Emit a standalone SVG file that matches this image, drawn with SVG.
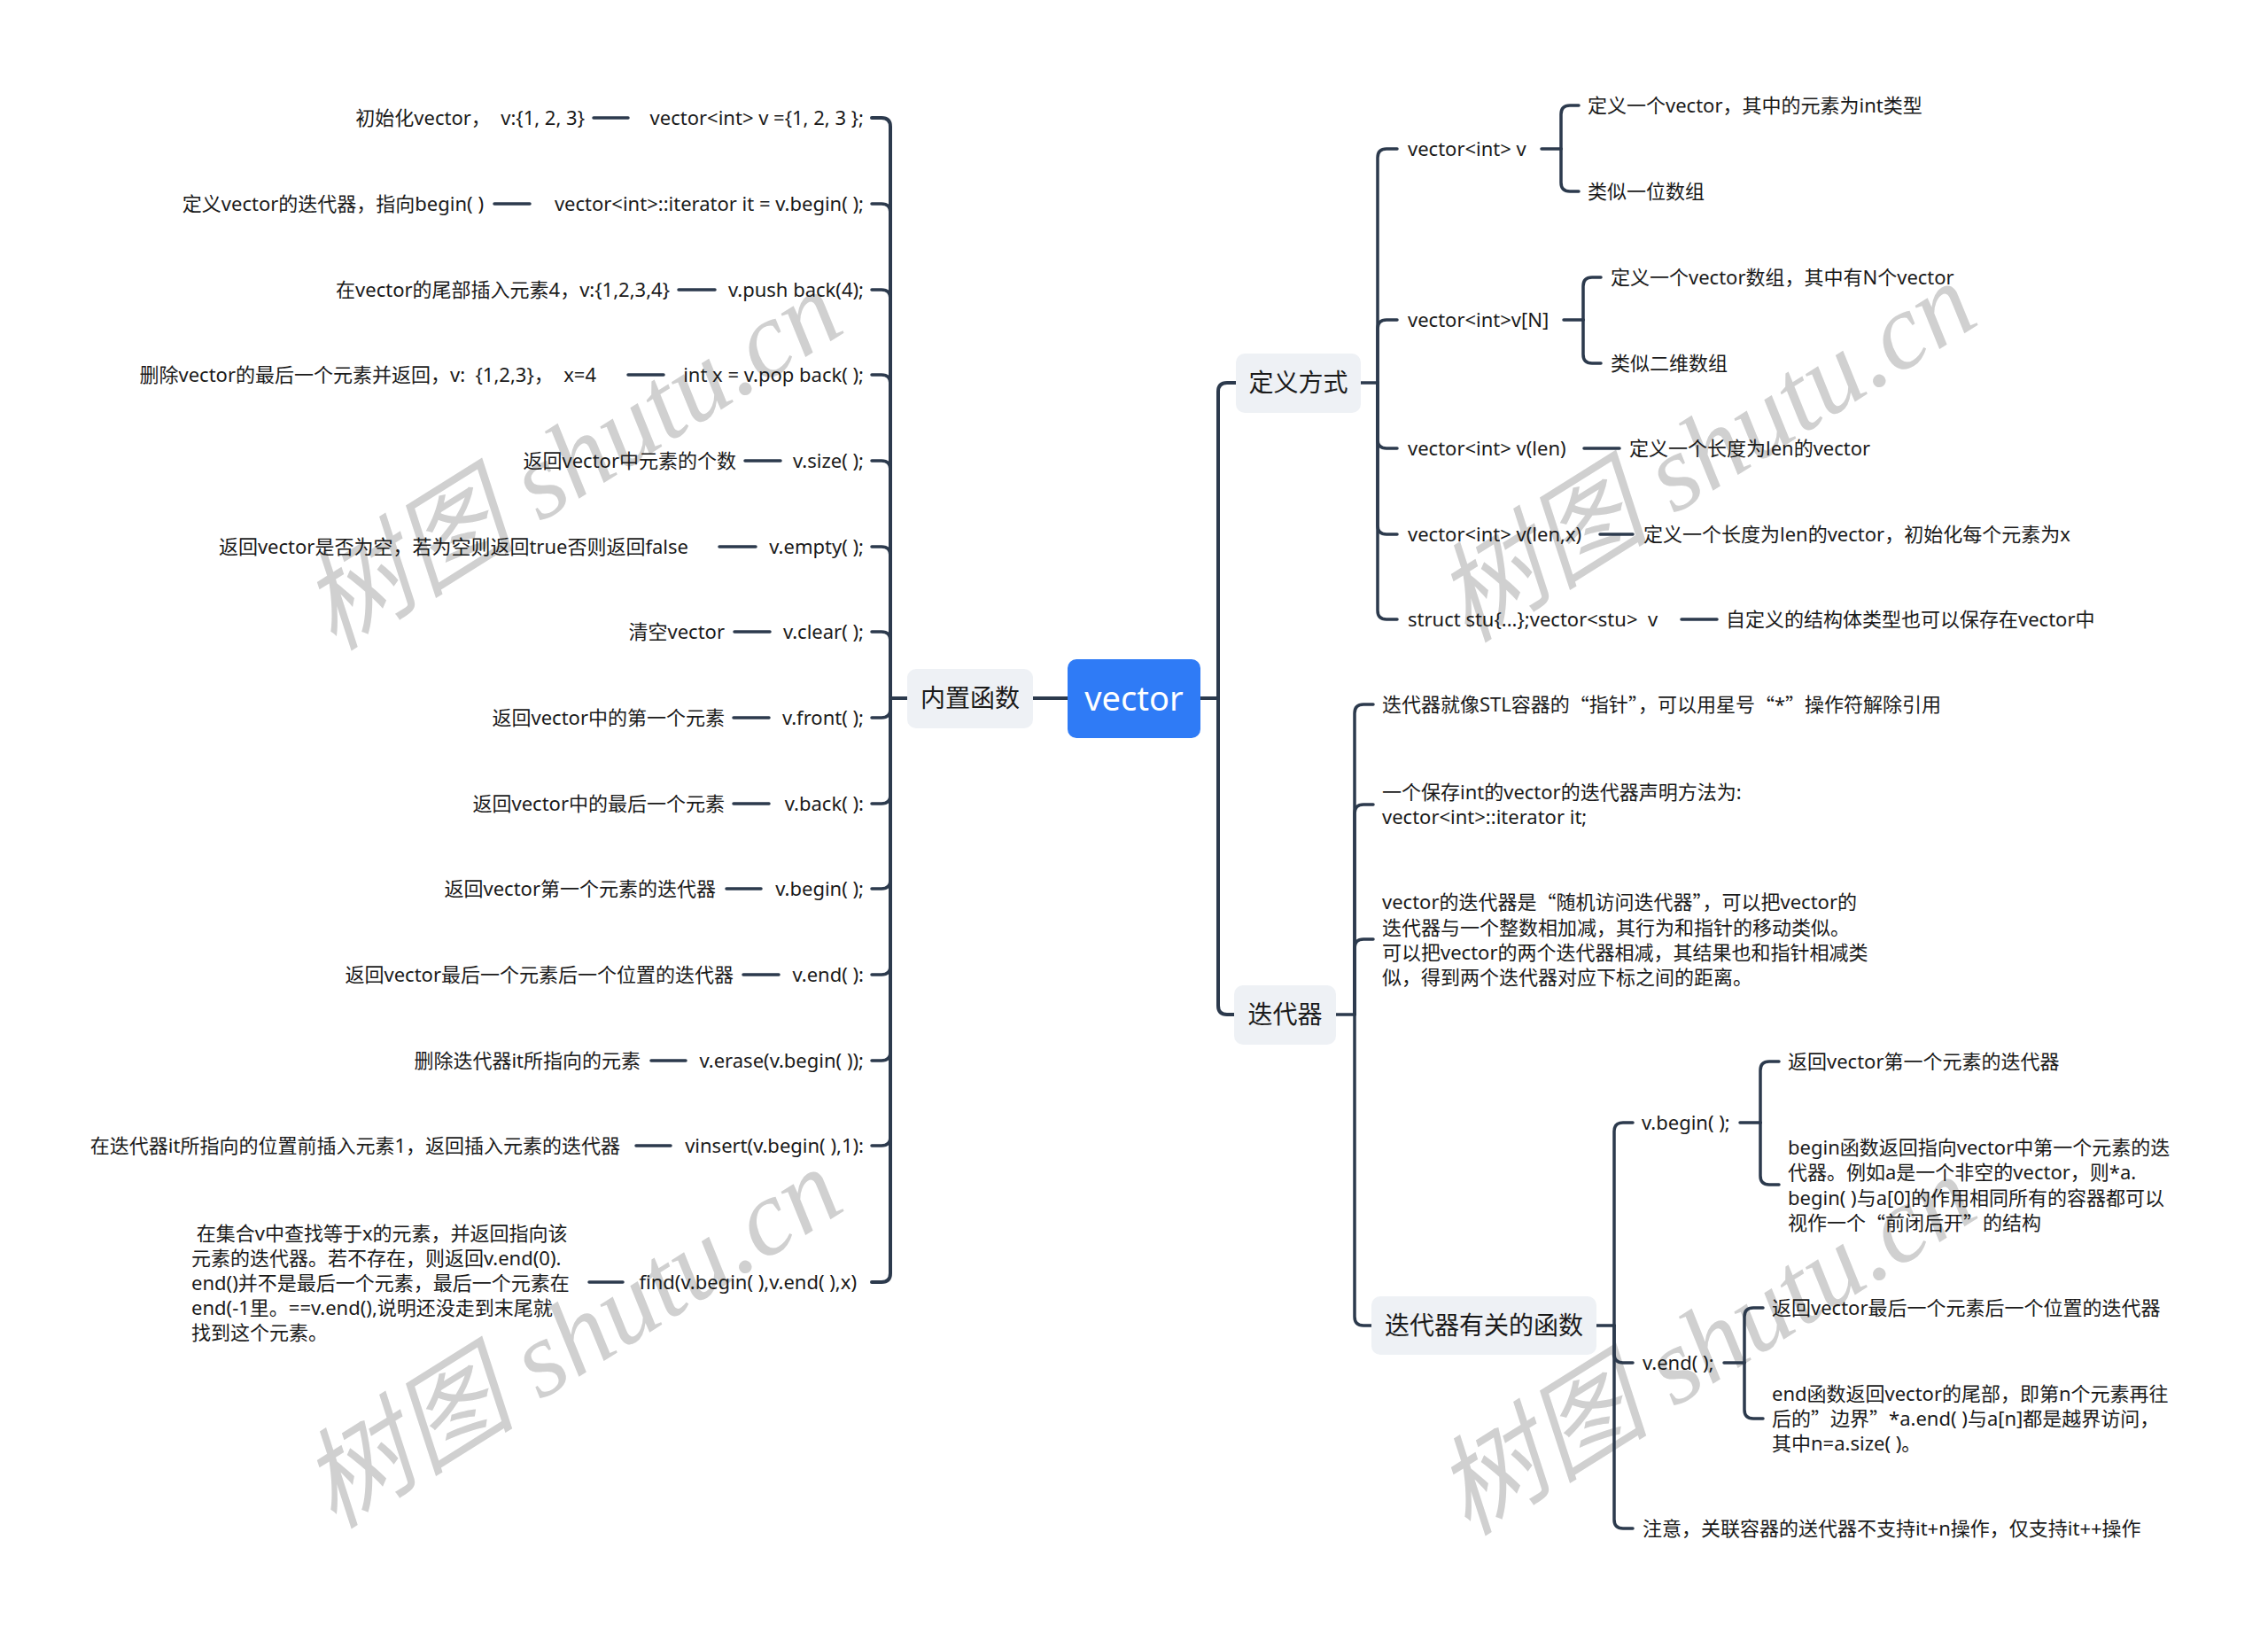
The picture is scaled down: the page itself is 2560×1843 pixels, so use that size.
<svg xmlns="http://www.w3.org/2000/svg" width="2560" height="1843" viewBox="0 0 2560 1843">
<style>
.t{font-family:'Noto Sans','Noto Sans CJK SC',sans-serif;font-size:22px;fill:#1a1a1a;white-space:pre;dominant-baseline:central}
.e{text-anchor:end}
.q{font-family:'Noto Sans CJK SC',sans-serif}
.tp{font-family:'Noto Sans','Noto Sans CJK SC',sans-serif;font-size:28px;fill:#1a1a1a;text-anchor:middle;dominant-baseline:central}
.rt{font-family:'Noto Sans','Noto Sans CJK SC',sans-serif;font-size:38px;fill:#ffffff;text-anchor:middle;dominant-baseline:central}
.box{fill:#eef1f5}
.ln{fill:none;stroke:#2c3a4d;stroke-width:3.5;stroke-linecap:round}
.ln4{fill:none;stroke:#2c3a4d;stroke-width:4;stroke-linecap:round}
.wm{font-family:'Liberation Serif','Noto Sans CJK SC',serif;font-style:italic;font-size:122px;fill:#d0d0d0;text-anchor:middle;dominant-baseline:central}
</style>
<rect width="2560" height="1843" fill="#ffffff"/>
<g id="watermarks">
<text class="wm" transform="translate(645,519) rotate(-32)">树图 shutu.cn</text>
<text class="wm" transform="translate(645,1510) rotate(-32)">树图 shutu.cn</text>
<text class="wm" transform="translate(1925,510) rotate(-32)">树图 shutu.cn</text>
<text class="wm" transform="translate(1925,1518) rotate(-32)">树图 shutu.cn</text>
</g>
<g id="connectors">
<path class="ln4" d="M1166,788 H1205 M1355,788 H1375 M1024,788 H1005"/>
<path class="ln4" d="M1005,788 V143 Q1005,133 995,133 H984"/>
<path class="ln" d="M1005,788 V240 Q1005,230 995,230 H984"/>
<path class="ln" d="M1005,788 V337 Q1005,327 995,327 H984"/>
<path class="ln" d="M1005,788 V433 Q1005,423 995,423 H984"/>
<path class="ln" d="M1005,788 V530 Q1005,520 995,520 H984"/>
<path class="ln" d="M1005,788 V627 Q1005,617 995,617 H984"/>
<path class="ln" d="M1005,788 V723 Q1005,713 995,713 H984"/>
<path class="ln" d="M1005,788 V800 Q1005,810 995,810 H984"/>
<path class="ln" d="M1005,788 V897 Q1005,907 995,907 H984"/>
<path class="ln" d="M1005,788 V993 Q1005,1003 995,1003 H984"/>
<path class="ln" d="M1005,788 V1090 Q1005,1100 995,1100 H984"/>
<path class="ln" d="M1005,788 V1187 Q1005,1197 995,1197 H984"/>
<path class="ln" d="M1005,788 V1283 Q1005,1293 995,1293 H984"/>
<path class="ln4" d="M1005,788 V1437 Q1005,1447 995,1447 H984"/>
<path class="ln" d="M670,133 H709 M558,230 H598 M766,327 H807 M709,423 H749 M841,520 H881 M812,617 H853 M829,713 H869 M828,810 H868 M828,907 H868 M820,1003 H859 M839,1100 H879 M735,1197 H774 M718,1293 H757 M665,1447 H703"/>
<path class="ln4" d="M1375,788 V442 Q1375,432 1385,432 H1395"/>
<path class="ln4" d="M1375,788 V1135 Q1375,1145 1385,1145 H1393"/>
<path class="ln" d="M1536,432 H1555"/>
<path class="ln" d="M1555,432 V178 Q1555,168 1565,168 H1577"/>
<path class="ln" d="M1555,432 V371 Q1555,361 1565,361 H1577"/>
<path class="ln" d="M1555,432 V496 Q1555,506 1565,506 H1577"/>
<path class="ln" d="M1555,432 V593 Q1555,603 1565,603 H1577"/>
<path class="ln" d="M1555,432 V689 Q1555,699 1565,699 H1577"/>
<path class="ln" d="M1740,168 H1762"/>
<path class="ln" d="M1762,168 V129 Q1762,119 1772,119 H1782"/>
<path class="ln" d="M1762,168 V206 Q1762,216 1772,216 H1782"/>
<path class="ln" d="M1765,361 H1787"/>
<path class="ln" d="M1787,361 V323 Q1787,313 1797,313 H1807"/>
<path class="ln" d="M1787,361 V400 Q1787,410 1797,410 H1807"/>
<path class="ln" d="M1788,506 H1828 M1806,603 H1843 M1898,699 H1938"/>
<path class="ln" d="M1508,1145 H1529"/>
<path class="ln" d="M1529,1145 V805 Q1529,795 1539,795 H1550"/>
<path class="ln" d="M1529,1145 V918 Q1529,908 1539,908 H1550"/>
<path class="ln" d="M1529,1145 V1070 Q1529,1060 1539,1060 H1550"/>
<path class="ln" d="M1529,1145 V1486 Q1529,1496 1539,1496 H1548"/>
<path class="ln" d="M1802,1496 H1822"/>
<path class="ln" d="M1822,1496 V1277 Q1822,1267 1832,1267 H1843"/>
<path class="ln" d="M1822,1496 V1528 Q1822,1538 1832,1538 H1843"/>
<path class="ln" d="M1822,1496 V1715 Q1822,1725 1832,1725 H1843"/>
<path class="ln" d="M1964,1267 H1987"/>
<path class="ln" d="M1987,1267 V1208 Q1987,1198 1997,1198 H2008"/>
<path class="ln" d="M1987,1267 V1327 Q1987,1337 1997,1337 H2008"/>
<path class="ln" d="M1946,1538 H1969"/>
<path class="ln" d="M1969,1538 V1486 Q1969,1476 1979,1476 H1990"/>
<path class="ln" d="M1969,1538 V1591 Q1969,1601 1979,1601 H1990"/>
</g>
<g id="root">
<rect x="1205" y="744" width="150" height="89" rx="10" fill="#2f7bf6"/>
<text class="rt" x="1280" y="787">vector</text>
</g>
<g id="builtin">
<rect class="box" x="1024" y="755" width="142" height="67" rx="10"/>
<text class="tp" x="1095" y="787">内置函数</text>
</g>
<g id="left-items">
<g id="l1"><text class="t e" x="660" y="132">初始化vector，  v:{1, 2, 3}</text><text class="t e" x="975" y="132">vector&lt;int&gt; v ={1, 2, 3 };</text></g>
<g id="l2"><text class="t e" x="546" y="229">定义vector的迭代器，指向begin( )</text><text class="t e" x="975" y="229">vector&lt;int&gt;::iterator it = v.begin( );</text></g>
<g id="l3"><text class="t e" x="756" y="326">在vector的尾部插入元素4，v:{1,2,3,4}</text><text class="t e" x="975" y="326">v.push back(4);</text></g>
<g id="l4"><text class="t e" x="673" y="422">删除vector的最后一个元素并返回，v:  {1,2,3}，  x=4</text><text class="t e" x="975" y="422">int x = v.pop back( );</text></g>
<g id="l5"><text class="t e" x="831" y="519">返回vector中元素的个数</text><text class="t e" x="975" y="519">v.size( );</text></g>
<g id="l6"><text class="t e" x="777" y="616">返回vector是否为空，若为空则返回true否则返回false</text><text class="t e" x="975" y="616">v.empty( );</text></g>
<g id="l7"><text class="t e" x="818" y="712">清空vector</text><text class="t e" x="975" y="712">v.clear( );</text></g>
<g id="l8"><text class="t e" x="818" y="809">返回vector中的第一个元素</text><text class="t e" x="975" y="809">v.front( );</text></g>
<g id="l9"><text class="t e" x="818" y="906">返回vector中的最后一个元素</text><text class="t e" x="975" y="906">v.back( ):</text></g>
<g id="l10"><text class="t e" x="808" y="1002">返回vector第一个元素的迭代器</text><text class="t e" x="975" y="1002">v.begin( );</text></g>
<g id="l11"><text class="t e" x="828" y="1099">返回vector最后一个元素后一个位置的迭代器</text><text class="t e" x="975" y="1099">v.end( ):</text></g>
<g id="l12"><text class="t e" x="723" y="1196">删除迭代器it所指向的元素</text><text class="t e" x="975" y="1196">v.erase(v.begin( ));</text></g>
<g id="l13"><text class="t e" x="700" y="1292">在迭代器it所指向的位置前插入元素1，返回插入元素的迭代器</text><text class="t e" x="975" y="1292">vinsert(v.begin( ),1):</text></g>
<g id="l14">
<text class="t"><tspan x="216" y="1391"> 在集合v中查找等于x的元素，并返回指向该</tspan><tspan x="216" y="1419">元素的迭代器。若不存在，则返回v.end(0).</tspan><tspan x="216" y="1447">end()并不是最后一个元素，最后一个元素在</tspan><tspan x="216" y="1475">end(-1里。==v.end(),说明还没走到末尾就</tspan><tspan x="216" y="1503">找到这个元素。</tspan></text>
<text class="t e" x="967" y="1446">find(v.begin( ),v.end( ),x)</text>
</g>
</g>
<g id="define">
<rect class="box" x="1395" y="399" width="141" height="67" rx="10"/>
<text class="tp" x="1465.5" y="431">定义方式</text>
</g>
<g id="define-items">
<g id="d1"><text class="t" x="1589" y="167">vector&lt;int&gt; v</text><text class="t" x="1792" y="118">定义一个vector，其中的元素为int类型</text><text class="t" x="1792" y="215">类似一位数组</text></g>
<g id="d2"><text class="t" x="1589" y="360">vector&lt;int&gt;v[N]</text><text class="t" x="1818" y="312">定义一个vector数组，其中有N个vector</text><text class="t" x="1818" y="409">类似二维数组</text></g>
<g id="d3"><text class="t" x="1589" y="505">vector&lt;int&gt; v(len)</text><text class="t" x="1839" y="505">定义一个长度为len的vector</text></g>
<g id="d4"><text class="t" x="1589" y="602">vector&lt;int&gt; v(len,x)</text><text class="t" x="1855" y="602">定义一个长度为len的vector，初始化每个元素为x</text></g>
<g id="d5"><text class="t" x="1589" y="698">struct stu{...};vector&lt;stu&gt;  v</text><text class="t" x="1948" y="698">自定义的结构体类型也可以保存在vector中</text></g>
</g>
<g id="iter">
<rect class="box" x="1393" y="1112" width="115" height="67" rx="10"/>
<text class="tp" x="1450.5" y="1144">迭代器</text>
</g>
<g id="iter-items">
<text class="t" x="1560" y="794">迭代器就像STL容器的<tspan class="q">“</tspan>指针<tspan class="q">”</tspan>，可以用星号<tspan class="q">“</tspan>*<tspan class="q">”</tspan>操作符解除引用</text>
<text class="t"><tspan x="1560" y="893">一个保存int的vector的迭代器声明方法为:</tspan><tspan x="1560" y="921">vector&lt;int&gt;::iterator it;</tspan></text>
<text class="t"><tspan x="1560" y="1017">vector的迭代器是<tspan class="q">“</tspan>随机访问迭代器<tspan class="q">”</tspan>，可以把vector的</tspan><tspan x="1560" y="1046">迭代器与一个整数相加减，其行为和指针的移动类似。</tspan><tspan x="1560" y="1074">可以把vector的两个迭代器相减，其结果也和指针相减类</tspan><tspan x="1560" y="1102">似，得到两个迭代器对应下标之间的距离。</tspan></text>
</g>
<g id="iterfunc">
<rect class="box" x="1548" y="1463" width="254" height="66" rx="10"/>
<text class="tp" x="1675" y="1495">迭代器有关的函数</text>
</g>
<g id="iterfunc-items">
<g id="f1"><text class="t" x="1853" y="1266">v.begin( );</text><text class="t" x="2018" y="1197">返回vector第一个元素的迭代器</text>
<text class="t"><tspan x="2018" y="1294">begin函数返回指向vector中第一个元素的迭</tspan><tspan x="2018" y="1322">代器。例如a是一个非空的vector，则*a.</tspan><tspan x="2018" y="1351">begin( )与a[0]的作用相同所有的容器都可以</tspan><tspan x="2018" y="1379">视作一个<tspan class="q">“</tspan>前闭后开<tspan class="q">”</tspan>的结构</tspan></text></g>
<g id="f2"><text class="t" x="1854" y="1537">v.end( );</text><text class="t" x="2000" y="1475">返回vector最后一个元素后一个位置的迭代器</text>
<text class="t"><tspan x="2000" y="1572">end函数返回vector的尾部，即第n个元素再往</tspan><tspan x="2000" y="1600">后的<tspan class="q">”</tspan>边界<tspan class="q">”</tspan>*a.end( )与a[n]都是越界访问，</tspan><tspan x="2000" y="1628">其中n=a.size( )。</tspan></text></g>
<g id="f3"><text class="t" x="1854" y="1724">注意，关联容器的送代器不支持it+n操作，仅支持it++操作</text></g>
</g>
</svg>
